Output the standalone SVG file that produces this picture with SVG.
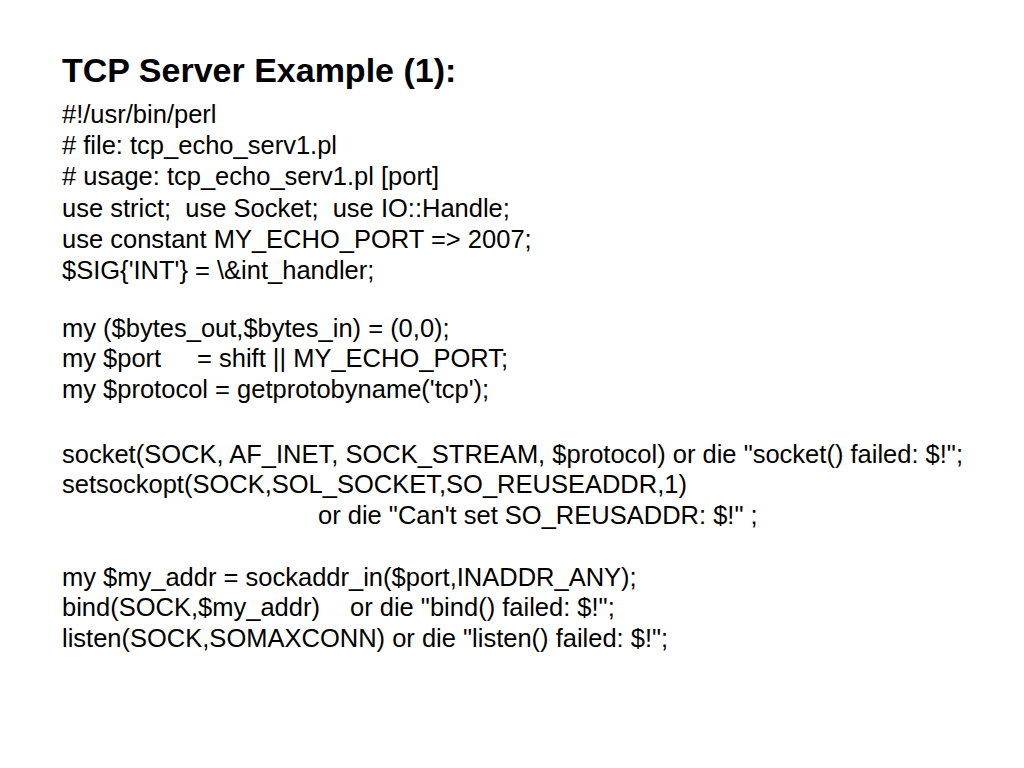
<svg xmlns="http://www.w3.org/2000/svg" width="1024" height="768" viewBox="0 0 1024 768">
<style>
.t{font-family:"Liberation Sans",Arial,sans-serif;font-weight:bold;font-size:34px;fill:#000}
.b{font-family:"Liberation Sans",Arial,sans-serif;font-size:25.5px;fill:#000;white-space:pre}
</style>
<rect width="1024" height="768" fill="#fff"/>
<text class="t" x="62" y="82">TCP Server Example (1):</text>
<g id="code">
<text class="b" x="62" y="123">#!/usr/bin/perl</text>
<text class="b" x="62" y="154"># file: tcp_echo_serv1.pl</text>
<text class="b" x="62" y="185"># usage: tcp_echo_serv1.pl [port]</text>
<text class="b" x="62" y="217">use strict;  use Socket;  use IO::Handle;</text>
<text class="b" x="62" y="248">use constant MY_ECHO_PORT =&gt; 2007;</text>
<text class="b" x="62" y="279">$SIG{'INT'} = \&amp;int_handler;</text>
<text class="b" x="62" y="337">my ($bytes_out,$bytes_in) = (0,0);</text>
<text class="b" x="62" y="367">my $port</text>
<text class="b" x="197" y="367">= shift || MY_ECHO_PORT;</text>
<text class="b" x="62" y="398">my $protocol = getprotobyname('tcp');</text>
<text class="b" x="62" y="463">socket(SOCK, AF_INET, SOCK_STREAM, $protocol) or die "socket() failed: $!";</text>
<text class="b" x="62" y="493">setsockopt(SOCK,SOL_SOCKET,SO_REUSEADDR,1)</text>
<text class="b" x="318" y="524">or die "Can't set SO_REUSADDR: $!" ;</text>
<text class="b" x="62" y="586">my $my_addr = sockaddr_in($port,INADDR_ANY);</text>
<text class="b" x="62" y="616">bind(SOCK,$my_addr)</text>
<text class="b" x="350" y="616">or die "bind() failed: $!";</text>
<text class="b" x="62" y="647">listen(SOCK,SOMAXCONN) or die "listen() failed: $!";</text>
</g>
</svg>
